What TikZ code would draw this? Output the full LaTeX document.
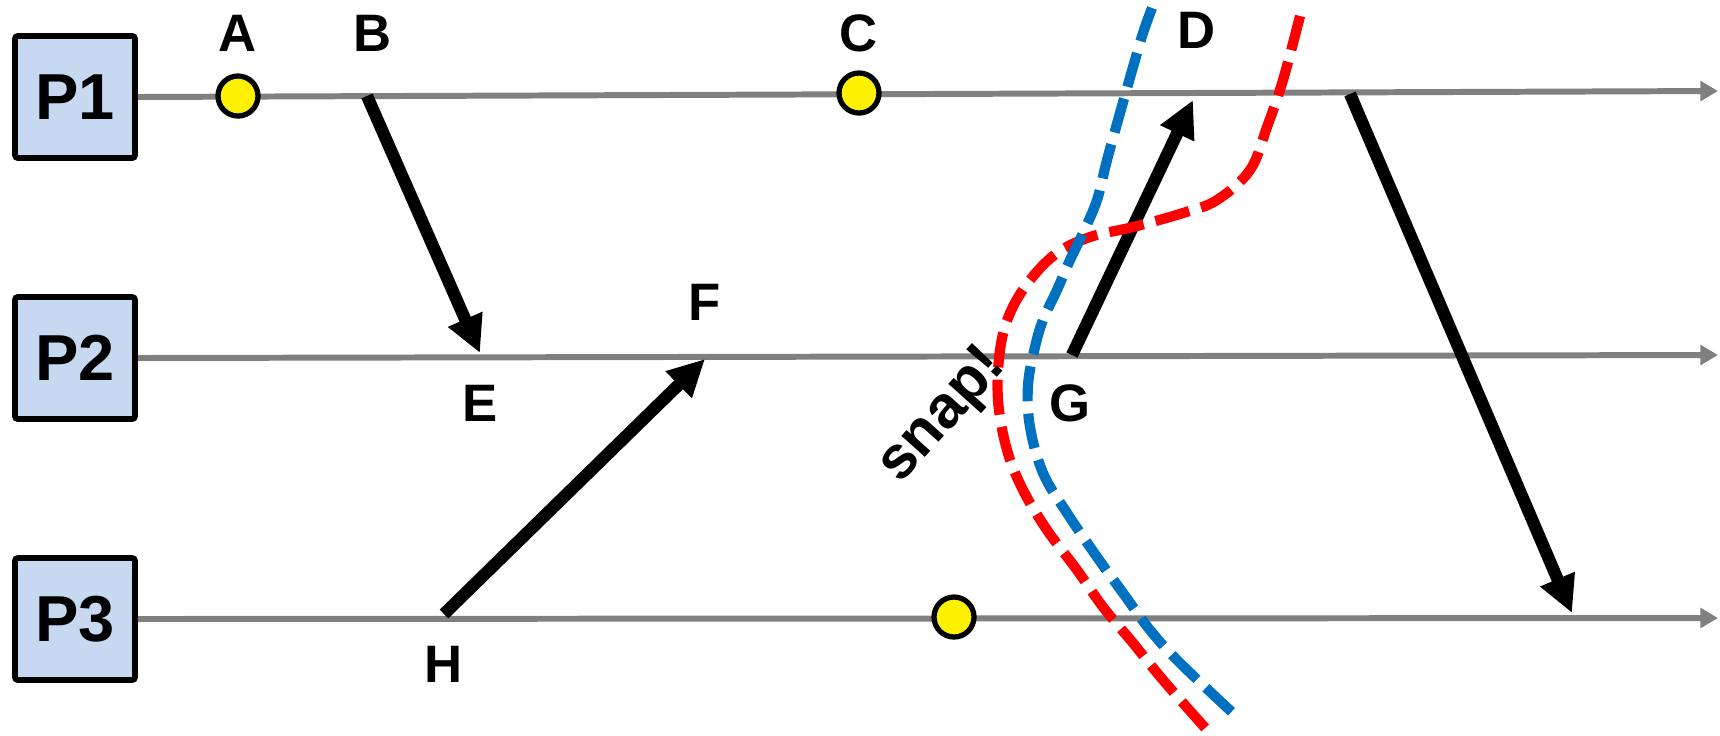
\documentclass[tikz,border=0pt]{standalone}
\usepackage{fontspec}
\setmainfont{Liberation Sans}
\usetikzlibrary{arrows.meta, shadows}
\definecolor{procblue}{RGB}{198,217,241}
\definecolor{linegray}{RGB}{128,128,128}
\definecolor{cutblue}{RGB}{0,112,192}
\definecolor{cutred}{RGB}{255,0,0}

\begin{document}
\begin{tikzpicture}[x=0.02cm, y=-0.02cm,
      proc/.style={draw, line width=3.2pt, rounded corners=1.5pt, fill=procblue,
                   minimum width=2.4cm, minimum height=2.44cm, inner sep=0pt,
                   font=\fontsize{37}{40}\selectfont\bfseries,
                   drop shadow={opacity=0.25, shadow xshift=1pt, shadow yshift=-1.5pt}},
      ev/.style={circle, draw, line width=3pt, fill=yellow,
                 minimum size=0.8cm, inner sep=0pt,
                 drop shadow={opacity=0.25, shadow xshift=0.5pt, shadow yshift=-1.5pt}},
      lbl/.style={font=\fontsize{30}{34}\selectfont\bfseries},
      tline/.style={draw=linegray, line width=3.4pt, -{Triangle[length=10pt, width=11pt]}},
      msg/.style={line width=7pt, -{Triangle[length=21pt, width=20pt]}},
      cut/.style={line width=5.8pt, dash pattern=on 20pt off 7pt}
    ]
    \useasboundingbox (0,0) rectangle (1720,735);

    % processes and their time lines
    \node[proc] (p1) at (75,97)  {P1};
    \node[proc] (p2) at (75,358) {P2};
    \node[proc] (p3) at (75,619) {P3};
    \coordinate (end1) at (1718,91);
    \coordinate (end2) at (1718,355);
    \coordinate (end3) at (1718,618);
    \draw[tline] (p1.east) -- (end1);
    \draw[tline] (p2.east) -- (end2);
    \draw[tline] (p3.east) -- (end3);

    % send and receive points
    \coordinate (b) at (367,96);
    \coordinate (e) at (480,353);
    \coordinate (h) at (444,614);
    \coordinate (f) at (705,359);
    \coordinate (g) at (1072,355);
    \coordinate (d) at (1193,100);
    \coordinate (s1) at (1350,94);
    \coordinate (r3) at (1572,613);

    \draw[msg] (b)  -- (e);
    \draw[msg] (h)  -- (f);
    \draw[msg] (g)  -- (d);
    \draw[msg] (s1) -- (r3);

    % local events
    \node[ev] (ea) at (238,96)  {};
    \node[ev] (ec) at (859,93)  {};
    \node[ev] (e3) at (954,617) {};

    % labels
    \node[lbl] (la) at (238,33)  {A};
    \node[lbl] (lb) at (373,33)  {B};
    \node[lbl] (lc) at (859,33)  {C};
    \node[lbl] (ld) at (1197,30) {D};
    \node[lbl] (le) at (480,403) {E};
    \node[lbl] (lf) at (705,302) {F};
    \node[lbl] (lg) at (1070,403) {G};
    \node[lbl] (lh) at (444,664) {H};

    % cuts
    \draw[cut, cutred] plot[smooth, tension=0.6] coordinates {
      (1300,16) (1283,80) (1267,127) (1250,170) (1217,200) (1183,213)
      (1133,227) (1090,237) (1057,253) (1030,280) (1010,313) (1000,350)
      (998,400) (1007,450) (1023,490) (1047,530) (1077,570) (1103,607)
      (1133,643) (1163,680) (1207,730)};
    \draw[cut, cutblue] plot[smooth, tension=0.6] coordinates {
      (1152,8) (1143,33) (1133,67) (1120,113) (1107,160) (1097,200)
      (1083,233) (1070,260) (1057,290) (1043,320) (1035,347) (1028,385)
      (1030,427) (1043,473) (1067,513) (1097,557) (1123,593) (1150,630)
      (1180,663) (1235,715)};

    \node[font=\fontsize{34}{37}\selectfont\bfseries, rotate=48] (snap) at (943,416) {snap!};
  \end{tikzpicture}
\end{document}
